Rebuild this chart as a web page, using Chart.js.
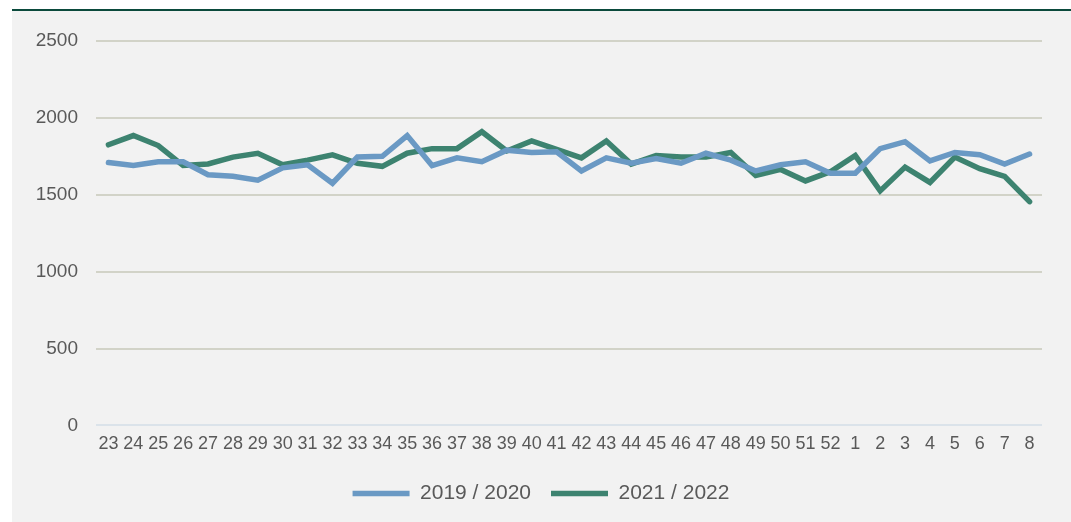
<!DOCTYPE html>
<html>
<head>
<meta charset="utf-8">
<script src="https://cdn.jsdelivr.net/npm/chart.js@4"></script>
<style>
  html, body { margin: 0; padding: 0; background: #ffffff; }
  .frame {
    position: absolute; left: 12px; top: 9px; width: 1059px; height: 511px;
    background: #f2f2f2; border-top: 2px solid #0b4a3c;
  }
  .frame canvas { display: block; }
</style>
</head>
<body>
<div class="frame"><canvas id="chart" width="1059" height="511"></canvas></div>
<script>
// week numbers
const weeks = ['23','24','25','26','27','28','29','30','31','32','33','34','35','36','37','38','39','40','41','42','43','44','45','46','47','48','49','50','51','52','1','2','3','4','5','6','7','8'];

const season1920 = [1710,1690,1715,1715,1630,1620,1595,1675,1695,1575,1745,1750,1885,1690,1740,1715,1790,1775,1780,1655,1740,1705,1735,1705,1770,1725,1655,1695,1715,1640,1640,1800,1845,1720,1775,1760,1700,1765];
const season2122 = [1825,1885,1820,1690,1700,1745,1770,1695,1725,1760,1705,1685,1770,1800,1800,1910,1785,1850,1795,1740,1850,1700,1755,1745,1745,1775,1625,1665,1590,1650,1755,1525,1680,1580,1745,1670,1620,1455];

const yTicks = [0, 500, 1000, 1500, 2000, 2500];

// legend is centred on the whole frame, not on the plot
const shiftLegend = {
    id: 'shiftLegend',
    afterLayout(chart) {
        chart.legend.left += 14;
        chart.legend.right += 14;
    }
};

const ctx = document.getElementById('chart').getContext('2d');
new Chart(ctx, {
    type: 'line',
    data: {
        labels: weeks,
        datasets: [
            {
                label: '2019 / 2020',
                data: season1920,
                borderColor: '#6a99c4',
                backgroundColor: '#6a99c4',
                borderWidth: 5.5,
                borderCapStyle: 'round',
                pointRadius: 0,
                tension: 0
            },
            {
                label: '2021 / 2022',
                data: season2122,
                borderColor: '#3d8370',
                backgroundColor: '#3d8370',
                borderWidth: 5.5,
                borderCapStyle: 'round',
                pointRadius: 0,
                tension: 0
            }
        ]
    },
    options: {
        responsive: false,
        animation: false,
        layout: { padding: { top: 30, right: 29, bottom: 8, left: 0 } },
        plugins: {
            tooltip: { enabled: false },
            legend: {
                position: 'bottom',
                labels: {
                    usePointStyle: true,
                    pointStyle: 'line',
                    pointStyleWidth: 57,
                    boxHeight: 5,
                    padding: 20,
                    color: '#595959',
                    font: { family: 'Liberation Sans, Arial, sans-serif', size: 21 }
                }
            }
        },
        scales: {
            x: {
                offset: true,
                grid: { display: false, drawTicks: false },
                border: { display: false },
                ticks: {
                    autoSkip: false,
                    maxRotation: 0,
                    padding: 8,
                    color: '#595959',
                    font: { family: 'Liberation Sans, Arial, sans-serif', size: 18 }
                }
            },
            y: {
                min: 0,
                max: 2500,
                afterFit: (scale) => { scale.width = 84; },
                afterBuildTicks: (scale) => { scale.ticks = yTicks.map(v => ({ value: v })); },
                grid: {
                    drawTicks: false,
                    lineWidth: 2,
                    color: (c) => c.tick && c.tick.value === 0 ? '#dbe3ea' : '#d2d3c8'
                },
                border: { display: false },
                ticks: {
                    padding: 18,
                    color: '#595959',
                    font: { family: 'Liberation Sans, Arial, sans-serif', size: 19 },
                    callback: (v) => String(v)
                }
            }
        }
    },
    plugins: [shiftLegend]
});
</script>
</body>
</html>
